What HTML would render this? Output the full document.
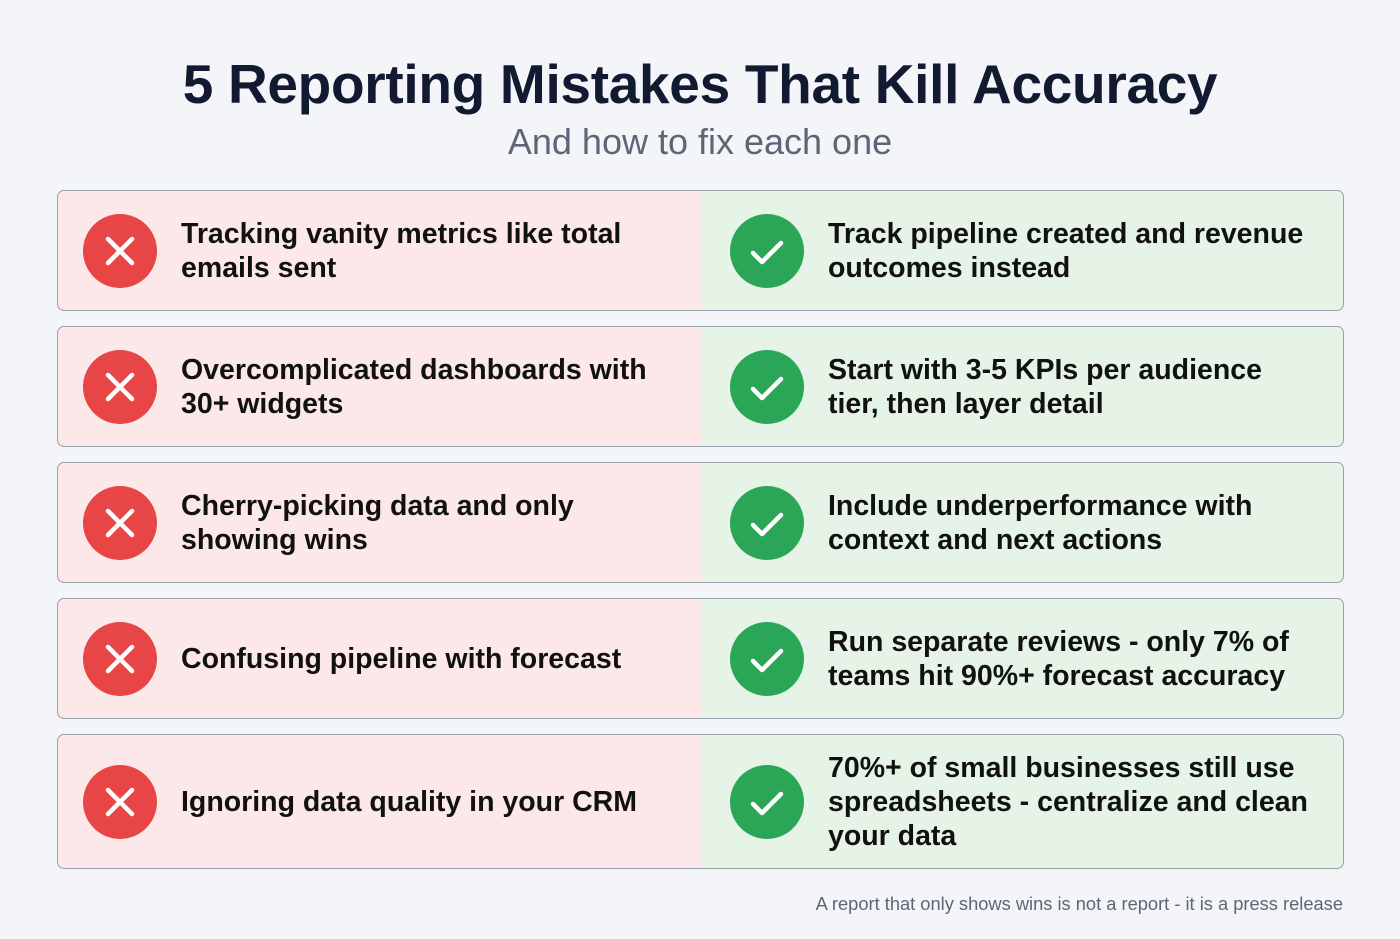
<!DOCTYPE html>
<html><head><meta charset="utf-8"><style>
body{margin:0;width:1400px;height:939px;background:#f3f5f9;font-family:"Liberation Sans",sans-serif;position:relative;overflow:hidden}
h1{position:absolute;top:52px;left:0;width:1400px;text-align:center;margin:0;font-size:55px;font-weight:bold;color:#111a30;letter-spacing:-0.3px}
.sub{position:absolute;top:121px;left:0;width:1400px;text-align:center;font-size:36px;color:#5e6676}
.row{position:absolute;left:57px;width:1285px;border:1.5px solid #9aa0ac;border-radius:7px;overflow:hidden;background:linear-gradient(90deg,#fce8e8 0,#fce8e8 643px,#e6f4e8 643px)}
.ic{position:absolute;width:74px;height:74px;border-radius:50%;top:50%;margin-top:-37px}
.x{left:25px;background:#e84646}.c{left:672px;background:#2aa656}
.ic svg{position:absolute;left:0;top:0}
.t{position:absolute;top:50%;transform:translateY(-50%);font-size:28.5px;font-weight:bold;color:#111;line-height:34px}
.l{left:123px;width:500px}.r{left:770px;width:490px}
.foot{position:absolute;right:57px;top:893px;font-size:18.3px;color:#5e6676}
</style></head><body>
<h1>5 Reporting Mistakes That Kill Accuracy</h1>
<div class="sub">And how to fix each one</div>

<div class="row" style="top:190px;height:119px">
<div class="ic x"><svg width="74" height="74"><path d="M25 25L49 49M49 25L25 49" stroke="#fff" stroke-width="4.5" stroke-linecap="round"/></svg></div>
<div class="t l">Tracking vanity metrics like total emails sent</div>
<div class="ic c"><svg width="74" height="74"><path d="M23 39L32 48L51 29" stroke="#fff" stroke-width="4.5" fill="none" stroke-linecap="round" stroke-linejoin="round"/></svg></div>
<div class="t r">Track pipeline created and revenue outcomes instead</div></div>

<div class="row" style="top:326px;height:119px">
<div class="ic x"><svg width="74" height="74"><path d="M25 25L49 49M49 25L25 49" stroke="#fff" stroke-width="4.5" stroke-linecap="round"/></svg></div>
<div class="t l">Overcomplicated dashboards with 30+ widgets</div>
<div class="ic c"><svg width="74" height="74"><path d="M23 39L32 48L51 29" stroke="#fff" stroke-width="4.5" fill="none" stroke-linecap="round" stroke-linejoin="round"/></svg></div>
<div class="t r">Start with 3-5 KPIs per audience tier, then layer detail</div></div>

<div class="row" style="top:462px;height:119px">
<div class="ic x"><svg width="74" height="74"><path d="M25 25L49 49M49 25L25 49" stroke="#fff" stroke-width="4.5" stroke-linecap="round"/></svg></div>
<div class="t l">Cherry-picking data and only showing wins</div>
<div class="ic c"><svg width="74" height="74"><path d="M23 39L32 48L51 29" stroke="#fff" stroke-width="4.5" fill="none" stroke-linecap="round" stroke-linejoin="round"/></svg></div>
<div class="t r">Include underperformance with context and next actions</div></div>

<div class="row" style="top:598px;height:119px">
<div class="ic x"><svg width="74" height="74"><path d="M25 25L49 49M49 25L25 49" stroke="#fff" stroke-width="4.5" stroke-linecap="round"/></svg></div>
<div class="t l">Confusing pipeline with forecast</div>
<div class="ic c"><svg width="74" height="74"><path d="M23 39L32 48L51 29" stroke="#fff" stroke-width="4.5" fill="none" stroke-linecap="round" stroke-linejoin="round"/></svg></div>
<div class="t r">Run separate reviews - only 7% of teams hit 90%+ forecast accuracy</div></div>

<div class="row" style="top:734px;height:133px">
<div class="ic x"><svg width="74" height="74"><path d="M25 25L49 49M49 25L25 49" stroke="#fff" stroke-width="4.5" stroke-linecap="round"/></svg></div>
<div class="t l">Ignoring data quality in your CRM</div>
<div class="ic c"><svg width="74" height="74"><path d="M23 39L32 48L51 29" stroke="#fff" stroke-width="4.5" fill="none" stroke-linecap="round" stroke-linejoin="round"/></svg></div>
<div class="t r">70%+ of small businesses still use spreadsheets - centralize and clean your data</div></div>

<div class="foot">A report that only shows wins is not a report - it is a press release</div>
</body></html>
